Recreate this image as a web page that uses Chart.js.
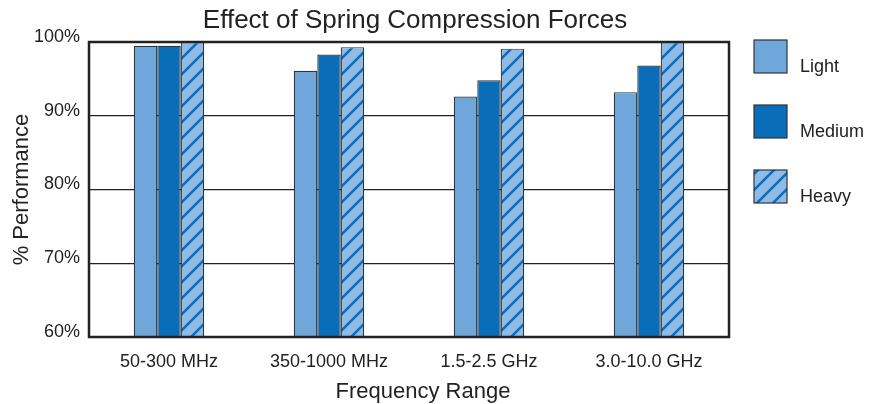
<!DOCTYPE html>
<html>
<head>
<meta charset="utf-8">
<script src="https://cdn.jsdelivr.net/npm/chart.js@4.4.1/dist/chart.umd.min.js"></script>
<style>
  html, body { margin: 0; padding: 0; background: #fff; }
  #wrap { width: 878px; height: 404px; }
</style>
</head>
<body>
<div id="wrap"><canvas id="chart"></canvas></div>
<script>
const categories = ["50-300 MHz", "350-1000 MHz", "1.5-2.5 GHz", "3.0-10.0 GHz"];
const seriesNames = ["Light", "Medium", "Heavy"];
const lightValues = [99.5, 96.1, 92.6, 93.2];
const mediumValues = [99.5, 98.3, 94.8, 96.8];
const heavyValues = [100, 99.3, 99.1, 100];
const yTicks = [60, 70, 80, 90, 100];
const chartTitle = "Effect of Spring Compression Forces";
const xTitle = "Frequency Range";

const FONT = "'Liberation Sans', Arial, Helvetica, sans-serif";
const INK = "#222";

function hatch() {
  const s = 16;
  const c = document.createElement("canvas");
  c.width = s; c.height = s;
  const g = c.getContext("2d");
  g.fillStyle = "#8fbbe6";
  g.fillRect(0, 0, s, s);
  g.strokeStyle = "#0b6fb9";
  g.lineWidth = 2.6;
  g.beginPath();
  g.moveTo(-2, s + 2); g.lineTo(s + 2, -2);
  g.moveTo(-2, 2); g.lineTo(2, -2);
  g.moveTo(s - 2, s + 2); g.lineTo(s + 2, s - 2);
  g.stroke();
  return g.createPattern(c, "repeat");
}

// titles, plot frame, legend on the right
const framePlugin = {
  id: "frame",
  afterDraw(chart) {
    const { ctx, chartArea: a } = chart;
    const mid = (a.left + a.right) / 2;
    ctx.save();
    ctx.fillStyle = INK;
    ctx.font = "26px " + FONT;
    ctx.textAlign = "center";
    ctx.textBaseline = "middle";
    ctx.fillText(chartTitle, mid + 6, 21);

    ctx.font = "22px " + FONT;
    ctx.textBaseline = "alphabetic";
    ctx.fillText(xTitle, mid + 14, 398);

    ctx.strokeStyle = INK;
    ctx.lineWidth = 2.5;
    ctx.strokeRect(a.left, a.top, a.right - a.left, a.bottom - a.top);

    const box = 33;
    const x = a.right + 25;
    chart.data.datasets.forEach((ds, i) => {
      const y = a.top - 2 + i * 65;
      ctx.fillStyle = ds.backgroundColor;
      ctx.fillRect(x, y, box, box);
      ctx.lineWidth = 1.2;
      ctx.strokeStyle = "#333";
      ctx.strokeRect(x, y, box, box);
      ctx.fillStyle = INK;
      ctx.font = "18px " + FONT;
      ctx.textBaseline = "middle";
      ctx.textAlign = "left";
      ctx.fillText(ds.label, x + 46, y + box / 2 + 11);
    });
    ctx.restore();
  }
};

const datasets = [lightValues, mediumValues, heavyValues].map((vals, i) => ({
  label: seriesNames[i],
  data: vals,
  backgroundColor: ["#70a7db", "#0a6db7", hatch()][i],
  borderColor: "#333",
  borderWidth: 1.2,
  borderSkipped: false,
  categoryPercentage: 0.44,
  barPercentage: 1.0
}));

new Chart(document.getElementById("chart"), {
  type: "bar",
  data: { labels: categories, datasets },
  plugins: [framePlugin],
  options: {
    responsive: true,
    maintainAspectRatio: false,
    animation: false,
    events: [],
    layout: { padding: { left: 0, right: 149, top: 42, bottom: 0 } },
    plugins: {
      legend: { display: false },
      tooltip: { enabled: false },
      title: { display: false }
    },
    scales: {
      x: {
        afterFit: (s) => { s.height = 67; },
        grid: { display: false },
        border: { display: false },
        ticks: { color: INK, font: { family: FONT, size: 18 }, padding: 6 }
      },
      y: {
        min: 60,
        max: 100,
        afterFit: (s) => { s.width = 89; },
        afterBuildTicks: (s) => { s.ticks = yTicks.map(v => ({ value: v })); },
        grid: {
          color: (c) => (c.tick && (c.tick.value === 60 || c.tick.value === 100)) ? "rgba(0,0,0,0)" : "#222",
          lineWidth: 1.2,
          drawTicks: false
        },
        border: { display: false },
        ticks: {
          color: INK,
          font: { family: FONT, size: 18 },
          padding: 9,
          labelOffset: -5,
          callback: (v) => v + "%"
        },
        title: {
          display: true,
          text: "% Performance",
          color: INK,
          font: { family: FONT, size: 22 },
          padding: { top: 9, bottom: 0 }
        }
      }
    }
  }
});
</script>
</body>
</html>
